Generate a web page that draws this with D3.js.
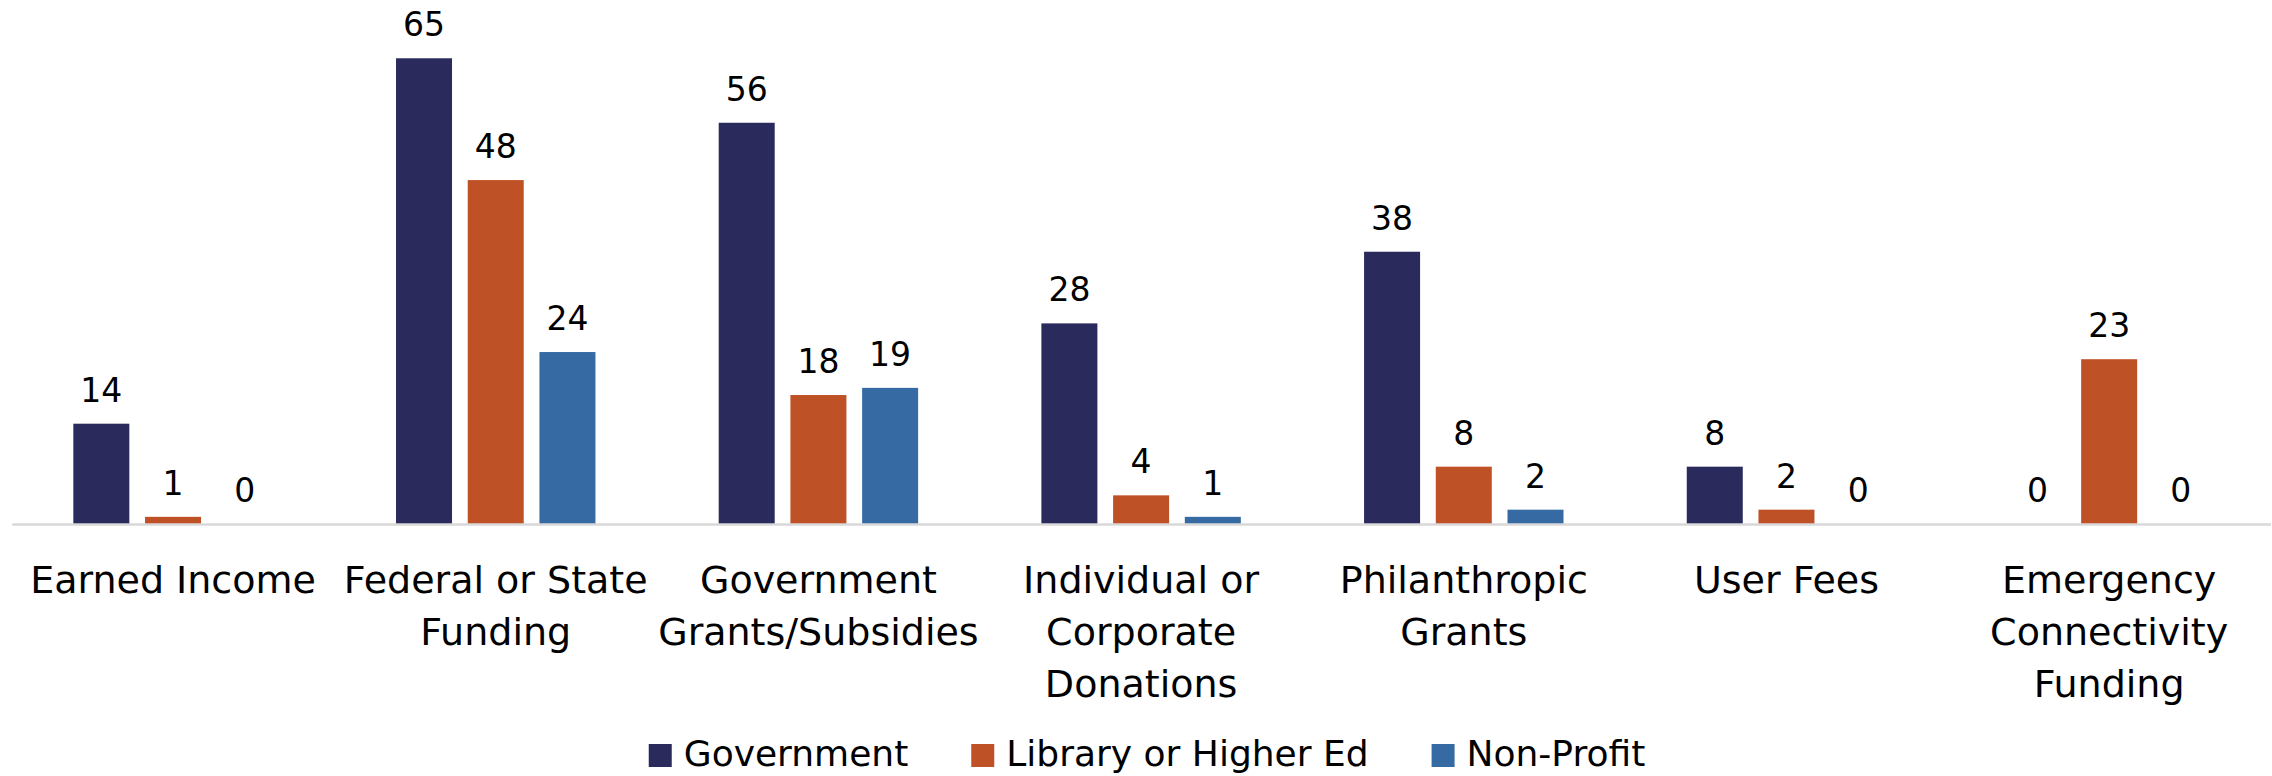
<!DOCTYPE html>
<html>
<head>
<meta charset="utf-8">
<script src="https://cdn.jsdelivr.net/npm/d3@7"></script>
<style>
  html, body { margin: 0; padding: 0; background: #fff; }
  svg { display: block; }
  text { font-family: "DejaVu Sans", "Noto Sans", sans-serif; fill: #000; }
</style>
</head>
<body>
<svg id="chart" width="2272" height="776"></svg>
<script>
// Funding sources by organisation type
const categories = [
  "Earned Income",
  "Federal or State Funding",
  "Government Grants/Subsidies",
  "Individual or Corporate Donations",
  "Philanthropic Grants",
  "User Fees",
  "Emergency Connectivity Funding"
];
const categoryLines = [
  ["Earned Income"],
  ["Federal or State", "Funding"],
  ["Government", "Grants/Subsidies"],
  ["Individual or", "Corporate", "Donations"],
  ["Philanthropic", "Grants"],
  ["User Fees"],
  ["Emergency", "Connectivity", "Funding"]
];
const seriesNames = ["Government", "Library or Higher Ed", "Non-Profit"];
const government = [14, 65, 56, 28, 38, 8, 0];
const libraryHigherEd = [1, 48, 18, 4, 8, 2, 23];
const nonProfit = [0, 24, 19, 1, 2, 0, 0];
const seriesColors = ["#2A2A5C", "#BF5127", "#356AA3"];

const seriesValues = [government, libraryHigherEd, nonProfit];
const rows = categories.map((c, i) => ({
  category: c,
  lines: categoryLines[i],
  values: seriesNames.map((s, j) => ({ series: s, value: seriesValues[j][i] }))
}));

const svg = d3.select("#chart");
const left = 11.7, right = 2270.5, baseY = 524, yMax = 70;

const x0 = d3.scaleBand()
  .domain(categories)
  .range([left, right])
  .paddingInner(0)
  .paddingOuter(0);

// group of three bars occupies the middle ~62% of each band
const groupWidth = x0.bandwidth() * 0.618;
const x1 = d3.scaleBand()
  .domain(seriesNames)
  .range([0, groupWidth])
  .paddingInner(0.219)
  .paddingOuter(0);

const y = d3.scaleLinear()
  .domain([0, yMax])
  .range([baseY, baseY - yMax * 7.165]);

const color = d3.scaleOrdinal().domain(seriesNames).range(seriesColors);

// bars
const groups = svg.append("g")
  .selectAll("g")
  .data(rows)
  .join("g")
  .attr("transform", d => `translate(${x0(d.category) + (x0.bandwidth() - groupWidth) / 2},0)`);

groups.selectAll("rect")
  .data(d => d.values)
  .join("rect")
  .attr("x", d => x1(d.series))
  .attr("y", d => y(d.value))
  .attr("width", x1.bandwidth())
  .attr("height", d => y(0) - y(d.value))
  .attr("fill", d => color(d.series));

// value labels
groups.selectAll("text.value")
  .data(d => d.values)
  .join("text")
  .attr("class", "value")
  .attr("x", d => x1(d.series) + x1.bandwidth() / 2)
  .attr("y", d => y(d.value) - 22)
  .attr("text-anchor", "middle")
  .style("font-size", "33px")
  .text(d => d.value);

// category axis
const xAxis = d3.axisBottom(x0).tickSize(0).tickFormat("");
const axisG = svg.append("g")
  .attr("transform", `translate(0,${baseY})`)
  .call(xAxis);
axisG.select(".domain")
  .attr("stroke", "#D9D9D9")
  .attr("stroke-width", 2.5);

axisG.selectAll(".tick").each(function(d, i) {
  const t = d3.select(this).append("text")
    .attr("text-anchor", "middle")
    .style("font-size", "38px")
    .attr("fill", "#000");
  rows[i].lines.forEach((line, k) => {
    t.append("tspan")
      .attr("x", 0)
      .attr("y", 69.3 + k * 52)
      .text(line);
  });
});

// legend
const legend = svg.append("g");
const legendItems = legend.selectAll("g")
  .data(seriesNames)
  .join("g");
legendItems.append("rect")
  .attr("width", 23)
  .attr("height", 23)
  .attr("y", 744)
  .attr("fill", d => color(d));
legendItems.append("text")
  .attr("x", 35)
  .attr("y", 766)
  .style("font-size", "36px")
  .text(d => d);

let offset = 0;
const gap = 63;
legendItems.each(function() {
  const g = d3.select(this);
  g.attr("transform", `translate(${offset},0)`);
  const w = 35 + g.select("text").node().getComputedTextLength();
  offset += w + gap;
});
const totalW = offset - gap;
legend.attr("transform", `translate(${1147 - totalW / 2},0)`);
</script>
</body>
</html>
